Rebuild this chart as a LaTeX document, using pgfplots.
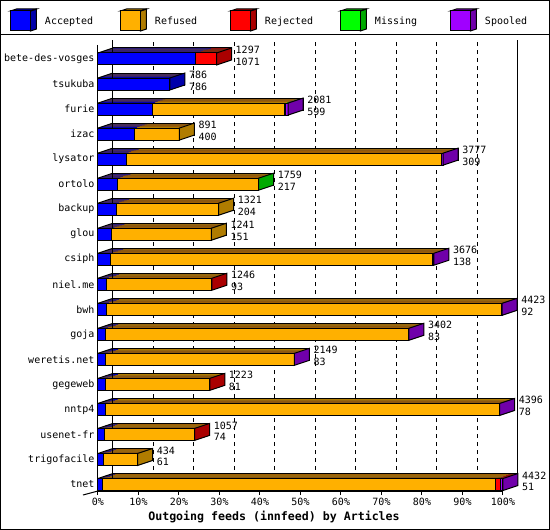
\documentclass[border=0pt]{standalone}
\usepackage{fontspec}
\setmainfont{DejaVu Sans Mono}
\usepackage{pgfplots}
\usepackage{pgfplotstable}
\pgfplotsset{compat=1.18}

\definecolor{cAcc}{RGB}{0,0,255}
\definecolor{cAccD}{RGB}{0,0,170}
\definecolor{cRef}{RGB}{255,176,0}
\definecolor{cRefD}{RGB}{176,124,0}
\definecolor{cRej}{RGB}{255,0,0}
\definecolor{cRejD}{RGB}{170,0,0}
\definecolor{cMis}{RGB}{0,255,0}
\definecolor{cMisD}{RGB}{0,170,0}
\definecolor{cSpo}{RGB}{160,0,255}
\definecolor{cSpoD}{RGB}{112,0,170}

\pgfdeclareplotmark{side}{%
  \pgfpathmoveto{\pgfqpoint{0pt}{-6pt}}%
  \pgfpathlineto{\pgfqpoint{0pt}{6pt}}%
  \pgfpathlineto{\pgfqpoint{15pt}{11pt}}%
  \pgfpathlineto{\pgfqpoint{15pt}{-1pt}}%
  \pgfpathclose
  \pgfusepathqfillstroke}
\pgfdeclareplotmark{tl}{%
  \pgfpathmoveto{\pgfqpoint{0pt}{6pt}}%
  \pgfpathlineto{\pgfqpoint{15pt}{11pt}}%
  \pgfusepathqstroke}

\pgfplotsset{
  copy/.style={xbar, bar width=12pt, draw=none, forget plot},
  cube/.style 2 args={legend image code/.code={%
    \draw[line width=1pt, fill=#2] (20pt,-10pt) -- (26pt,-8pt) -- (26pt,12pt) -- (20pt,10pt) -- cycle;
    \draw[line width=1pt, fill=#2] (0pt,10pt) -- (6pt,12pt) -- (26pt,12pt) -- (20pt,10pt) -- cycle;
    \draw[line width=1pt, fill=#1] (0pt,-10pt) rectangle (20pt,10pt);}},
}

\pgfplotstableread{
name y acc ref rej mis spo total last
bete-des-vosges 0 1071 0 226 0 0 1297 R
tsukuba 1 786 0 0 0 0 786 A
furie 2 599 1440 0 15 27 2081 S
izac 3 400 491 0 0 0 891 F
lysator 4 309 3453 0 0 15 3777 S
ortolo 5 217 1537 0 5 0 1759 M
backup 6 204 1117 0 0 0 1321 F
glou 7 151 1090 0 0 0 1241 F
csiph 8 138 3525 0 0 13 3676 S
niel.me 9 93 1150 3 0 0 1246 R
bwh 10 92 4326 0 0 5 4423 S
goja 11 83 3313 0 0 6 3402 S
weretis.net 12 83 2064 0 0 2 2149 S
gegeweb 13 81 1139 3 0 0 1223 R
nntp4 14 78 4314 0 0 4 4396 S
usenet-fr 15 74 980 3 0 0 1057 R
trigofacile 16 61 373 0 0 0 434 F
tnet 17 51 4304 55 0 22 4432 S
}\data

\begin{document}
\begin{tikzpicture}
\begin{axis}[
  name=ax,
  scale only axis, width=405pt, height=446pt,
  xmin=0, xmax=4432, ymin=-0.559, ymax=17.26, y dir=reverse,
  clip=false,
  axis x line*=bottom, axis y line*=left,
  axis line style={line width=1pt, -},
  xtick={0,443.2,886.4,1329.6,1772.8,2216,2659.2,3102.4,3545.6,3988.8,4432},
  xticklabels={0\%,10\%,20\%,30\%,40\%,50\%,60\%,70\%,80\%,90\%,100\%},
  xtick align=outside, major tick length=4pt,
  xtick style={line width=1pt, black},
  ytick={0,...,17}, yticklabels from table={\data}{name},
  ytick style={draw=none}, ytick align=inside,
  tick label style={font=\fontsize{10}{12}\selectfont},
  xlabel={Outgoing feeds (innfeed) by Articles},
  xlabel style={font=\bfseries\fontsize{11.6}{13}\selectfont, at={(axis description cs:0.4346,-0.0583)}, anchor=center},
  legend columns=5, reverse legend,
  legend style={at={(axis description cs:-0.2173,1.0561)}, anchor=west,
    draw=none, fill=none, inner sep=0pt, outer sep=0pt,
    font=\fontsize{10}{12}\selectfont,
    nodes={inner sep=0pt, outer sep=0pt},
    /tikz/every odd column/.append style={column sep=8pt},
    /tikz/every even column/.append style={column sep=0pt}},
]
% back wall grid and lines
\pgfplotsinvokeforeach{1,...,9}{
  \draw[dash pattern=on 4pt off 4pt, line width=1pt, xshift=15pt, yshift=5pt]
    (axis description cs:#1/10,0) -- (axis description cs:#1/10,1);
}
\draw[line width=1pt, xshift=15pt, yshift=5pt] (axis description cs:0,0) -- (axis description cs:0,1);
\draw[line width=1pt, xshift=15pt, yshift=5pt] (axis description cs:1,0) -- (axis description cs:1,1);
\draw[line width=1pt] (axis description cs:0,0) -- ++(-15pt,-4pt);

% depth (top faces) as stacked shifted copies
\pgfplotsinvokeforeach{6,5,4,3,2,1}{
  \addplot[copy, fill=cSpoD, xshift=#1*2.5pt, yshift=#1*0.8333pt] table[x=total, y=y]{\data};
  \addplot[copy, fill=cMisD, xshift=#1*2.5pt, yshift=#1*0.8333pt] table[x expr=\thisrow{acc}+\thisrow{ref}+\thisrow{rej}+\thisrow{mis}, y=y]{\data};
  \addplot[copy, fill=cRejD, xshift=#1*2.5pt, yshift=#1*0.8333pt] table[x expr=\thisrow{acc}+\thisrow{ref}+\thisrow{rej}, y=y]{\data};
  \addplot[copy, fill=cRefD, xshift=#1*2.5pt, yshift=#1*0.8333pt] table[x expr=\thisrow{acc}+\thisrow{ref}, y=y]{\data};
  \addplot[copy, fill=cAccD, xshift=#1*2.5pt, yshift=#1*0.8333pt] table[x=acc, y=y]{\data};
}
\addplot[xbar, bar width=12pt, fill=none, draw=black, line width=1pt, forget plot, xshift=15pt, yshift=5pt] table[x=total, y=y]{\data};

% front faces
\addplot[xbar, bar width=12pt, draw=black, line width=1pt, fill=cSpo, cube={cSpo}{cSpoD}] table[x=total, y=y]{\data};
\addlegendentry{Spooled}
\addplot[xbar, bar width=12pt, draw=black, line width=1pt, fill=cMis, cube={cMis}{cMisD}] table[x expr=\thisrow{acc}+\thisrow{ref}+\thisrow{rej}+\thisrow{mis}, y=y]{\data};
\addlegendentry{\makebox[75pt][l]{Missing}}
\addplot[xbar, bar width=12pt, draw=black, line width=1pt, fill=cRej, cube={cRej}{cRejD}] table[x expr=\thisrow{acc}+\thisrow{ref}+\thisrow{rej}, y=y]{\data};
\addlegendentry{\makebox[75pt][l]{Rejected}}
\addplot[xbar, bar width=12pt, draw=black, line width=1pt, fill=cRef, cube={cRef}{cRefD}] table[x expr=\thisrow{acc}+\thisrow{ref}, y=y]{\data};
\addlegendentry{\makebox[75pt][l]{Refused}}
\addplot[xbar, bar width=12pt, draw=black, line width=1pt, fill=cAcc, cube={cAcc}{cAccD}] table[x=acc, y=y]{\data};
\addlegendentry{\makebox[75pt][l]{Accepted}}

% side faces
\addplot[scatter, only marks, forget plot, line width=1pt, scatter src=explicit symbolic,
  scatter/classes={
    A={mark=side, draw=black, fill=cAccD},
    F={mark=side, draw=black, fill=cRefD},
    R={mark=side, draw=black, fill=cRejD},
    M={mark=side, draw=black, fill=cMisD},
    S={mark=side, draw=black, fill=cSpoD}}]
  table[x=total, y=y, meta=last]{\data};
% top-left edges
\addplot[only marks, mark=tl, line width=1pt, mark options={draw=black}, forget plot] table[x expr=0, y=y]{\data};

% value labels
\addplot[xbar, bar width=12pt, draw=none, fill=none, forget plot,
  visualization depends on={\thisrow{total}\as\tot},
  visualization depends on={\thisrow{acc}\as\accv},
  nodes near coords={\pgfmathprintnumber[fixed,precision=0,1000 sep={},assume math mode=true]{\tot}\\\pgfmathprintnumber[fixed,precision=0,1000 sep={},assume math mode=true]{\accv}},
  every node near coord/.append style={anchor=west, xshift=19pt, yshift=3.3pt, inner sep=0pt,
    align=left, font=\fontsize{10}{11.5}\selectfont, text=black}]
  table[x=total, y=y]{\data};
\end{axis}
\draw[line width=1pt] ([shift={(-97.5pt,-38.5pt)}]ax.south west) rectangle ([shift={(451.5pt,490.5pt)}]ax.south west);
\draw[line width=1pt] ([shift={(-97.5pt,456pt)}]ax.south west) -- ([shift={(451.5pt,456pt)}]ax.south west);
\end{tikzpicture}
\end{document}
